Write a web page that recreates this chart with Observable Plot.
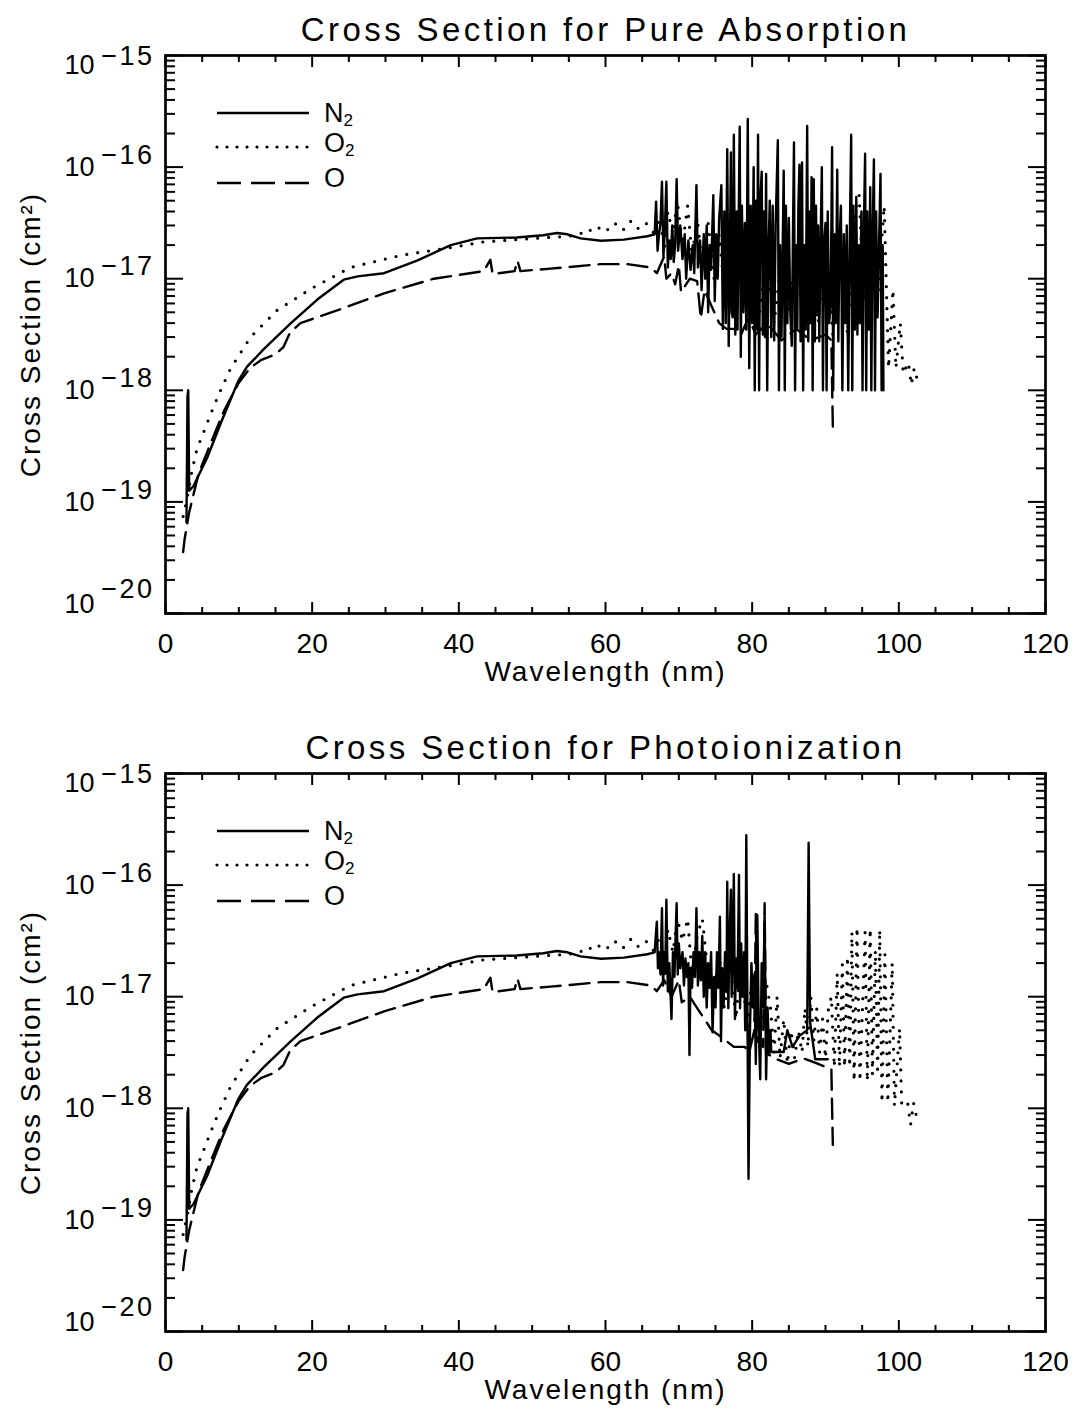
<!DOCTYPE html>
<html><head><meta charset="utf-8">
<script src="https://cdn.jsdelivr.net/npm/d3@7"></script>
<script src="https://cdn.jsdelivr.net/npm/@observablehq/plot@0.6"></script>
<style>
html,body{margin:0;padding:0;background:#fff;}
#root{width:1076px;}
#root svg{display:block;}
</style></head><body><div id="root"></div>
<script>
// ---------- text ----------
const panelTitles = ["Cross Section for Pure Absorption", "Cross Section for Photoionization"];
const xLabel = "Wavelength (nm)";
const yLabel = "Cross Section (cm\u00B2)";
const legendNames = [["N", "2"], ["O", "2"], ["O", ""]];

// ---------- ticks ----------
const xMajorTicks = [0, 20, 40, 60, 80, 100, 120];
const xMinorTicks = [5, 10, 15, 25, 30, 35, 45, 50, 55, 65, 70, 75, 85, 90, 95, 105, 110, 115];
const yDecades = [1e-15, 1e-16, 1e-17, 1e-18, 1e-19, 1e-20];
const yInnerDecades = [1e-16, 1e-17, 1e-18, 1e-19];
const yMinorTicks = [-20, -19, -18, -17, -16].flatMap(e => [2, 3, 4, 5, 6, 7, 8, 9].map(m => +(m + "e" + e)));

// ---------- data: [wavelength nm, cross section cm^2] ----------
// smooth part, shared by both panels
const n2Smooth = [
  [2.86, 6.6e-20], [3.0, 8.9e-19], [3.1, 1.0e-18], [3.23, 1.26e-19], [3.8, 1.38e-19],
  [5.7, 2.5e-19], [7.6, 5.2e-19], [9.9, 1.2e-18], [11.1, 1.62e-18], [13.4, 2.34e-18],
  [17.1, 4.0e-18], [20.7, 6.5e-18], [24.3, 9.8e-18], [26.2, 1.05e-17], [29.8, 1.12e-17],
  [34.3, 1.45e-17], [38.9, 2.0e-17], [42.5, 2.3e-17], [47.9, 2.34e-17], [51.5, 2.45e-17],
  [53.4, 2.57e-17], [54.8, 2.5e-17], [56.6, 2.3e-17], [59.4, 2.19e-17], [62.5, 2.24e-17],
  [65.7, 2.4e-17]
];
const o2Smooth = [
  [2.4, 7.4e-20], [3.0, 1.12e-19], [3.6, 1.9e-19], [4.3, 3.0e-19], [5.2, 4.2e-19],
  [6.1, 6.0e-19], [7.3, 9.3e-19], [8.9, 1.58e-18], [11.6, 3.0e-18], [15.2, 5.2e-18],
  [19.8, 8.1e-18], [25.2, 1.26e-17], [32.1, 1.62e-17], [38.9, 1.9e-17], [43.4, 2.14e-17],
  [48.0, 2.24e-17], [52.0, 2.34e-17], [55.0, 2.4e-17], [56.5, 2.5e-17], [57.5, 2.8e-17],
  [58.5, 2.6e-17], [59.5, 3.0e-17], [60.5, 2.7e-17], [61.5, 3.16e-17], [62.5, 2.75e-17],
  [63.5, 3.3e-17], [64.5, 2.8e-17], [65.5, 3.16e-17], [66.5, 2.6e-17]
];
const oSmooth = [
  [2.4, 3.55e-20], [2.6, 4.6e-20], [3.2, 7.9e-20], [4.5, 1.78e-19], [6.0, 3.16e-19],
  [8.0, 6.6e-19], [10.0, 1.17e-18], [11.5, 1.58e-18], [13.0, 1.86e-18], [15.0, 2.1e-18],
  [16.1, 2.45e-18], [17.0, 3.3e-18], [18.4, 4.0e-18], [23.4, 5.2e-18], [29.8, 7.4e-18],
  [36.6, 1.0e-17], [43.4, 1.17e-17], [44.3, 1.48e-17], [44.6, 1.1e-17], [47.6, 1.17e-17],
  [48.0, 1.45e-17], [48.4, 1.17e-17], [52.5, 1.23e-17], [59.3, 1.35e-17], [63.0, 1.35e-17],
  [66.2, 1.26e-17]
];

// band structure, pure absorption
const n2AbsBand = [
  [66.7, 2.5e-17], [66.9, 4.9e-17], [67.1, 1.78e-17], [67.3, 2.5e-17], [67.5, 3.16e-17],
  [67.7, 7.4e-17], [67.9, 1.58e-17], [68.1, 2.8e-17], [68.3, 7.4e-17], [68.5, 1.26e-17],
  [68.7, 2.2e-17], [68.9, 1.5e-17], [69.1, 3.0e-17], [69.3, 1.41e-17], [69.5, 2.0e-17],
  [69.7, 7.8e-17], [69.9, 1.78e-17], [70.2, 3.0e-17], [70.5, 1.5e-17], [70.8, 2.5e-17],
  [71.0, 1.0e-17], [71.3, 2.2e-17], [71.6, 1.2e-17], [71.9, 2.0e-17], [72.1, 1.12e-17],
  [72.4, 6.9e-17], [72.6, 1.26e-17], [72.9, 2.2e-17], [73.1, 7.9e-18], [73.4, 2.5e-17],
  [73.6, 1.0e-17], [73.8, 3.0e-17], [74.0, 5.0e-18], [74.2, 2.0e-17], [74.4, 1.2e-17],
  [74.7, 5.6e-17], [74.9, 6.3e-18], [75.1, 2.5e-17], [75.3, 1.0e-17], [75.5, 3.5e-17],
  [75.8, 6.9e-17], [76.0, 3.55e-18], [76.2, 4.0e-17], [76.4, 4.0e-18], [76.6, 1.45e-16],
  [76.8, 2.5e-18], [77.0, 3.0e-17], [77.1, 1.35e-16], [77.2, 5.0e-18], [77.35, 4.5e-18],
  [77.5, 1.95e-16], [77.7, 3.16e-18], [77.9, 4.0e-17], [78.0, 3.5e-18], [78.3, 2.3e-16],
  [78.45, 2.0e-18], [78.6, 4.5e-17], [78.8, 5.0e-18], [79.0, 3.16e-17], [79.2, 3.5e-18],
  [79.4, 2.7e-16], [79.6, 1.58e-18], [79.8, 4.5e-17], [80.0, 4.0e-18], [80.2, 1.0e-16],
  [80.35, 1.0e-18], [80.5, 5.0e-17], [80.65, 3.5e-18], [80.8, 1.95e-16], [80.95, 1.0e-18],
  [81.1, 5.0e-17], [81.3, 9.1e-17], [81.45, 3.16e-18], [81.6, 4.0e-17], [81.75, 3.0e-18],
  [81.9, 8.7e-17], [82.05, 1.0e-18], [82.2, 1.5e-17], [82.4, 5.0e-17], [82.6, 3.0e-18],
  [82.8, 4.5e-17], [83.0, 2.8e-18], [83.2, 3.0e-17], [83.5, 1.74e-16], [83.65, 1.0e-18],
  [83.8, 2.0e-17], [84.0, 3.0e-18], [84.3, 9.3e-17], [84.45, 1.0e-18], [84.6, 4.5e-17],
  [84.8, 4.0e-18], [85.0, 3.5e-17], [85.2, 5.0e-18], [85.4, 2.5e-18], [85.7, 1.66e-16],
  [85.85, 1.0e-18], [86.0, 2.0e-17], [86.15, 3.5e-18], [86.3, 4.5e-17], [86.45, 1.05e-16],
  [86.6, 2.75e-18], [86.8, 1.1e-16], [86.95, 1.0e-18], [87.1, 2.0e-17], [87.3, 3.5e-18],
  [87.5, 2.34e-16], [87.65, 2.75e-18], [87.8, 4.0e-17], [87.95, 4.0e-18], [88.1, 8.1e-17],
  [88.25, 1.0e-18], [88.4, 7.8e-17], [88.55, 2.75e-18], [88.7, 4.5e-17], [88.85, 5.0e-18],
  [89.0, 3.0e-17], [89.15, 2.75e-18], [89.3, 1.5e-17], [89.5, 1.0e-16], [89.65, 1.0e-18],
  [89.8, 2.0e-17], [90.0, 3.16e-17], [90.15, 1.0e-18], [90.3, 4.0e-17], [90.5, 4.0e-18],
  [90.7, 6.0e-18], [90.9, 1.51e-16], [91.05, 1.0e-18], [91.2, 2.5e-17], [91.4, 4.0e-18],
  [91.6, 9.5e-17], [91.75, 2.75e-18], [91.9, 2.0e-17], [92.1, 4.5e-17], [92.3, 1.0e-18],
  [92.5, 2.5e-17], [92.7, 4.0e-18], [92.9, 3.0e-17], [93.1, 1.0e-18], [93.3, 2.0e-17],
  [93.5, 1.95e-16], [93.65, 1.0e-18], [93.8, 4.5e-17], [94.0, 3.5e-18], [94.2, 5.4e-17],
  [94.35, 3.16e-18], [94.5, 2.0e-17], [94.7, 4.0e-18], [94.9, 4.0e-17], [95.05, 1.0e-18],
  [95.2, 2.0e-17], [95.4, 1.32e-16], [95.55, 1.0e-18], [95.7, 4.0e-17], [95.9, 3.5e-18],
  [96.1, 6.6e-17], [96.25, 1.0e-18], [96.4, 2.0e-17], [96.6, 1.17e-16], [96.75, 1.0e-18],
  [96.9, 4.0e-17], [97.1, 4.5e-18], [97.3, 2.0e-17], [97.5, 8.7e-17], [97.65, 1.0e-18],
  [97.8, 2.0e-17], [97.9, 1.0e-18]
];
const o2AbsBand = [
  [67.5, 3.55e-17], [68.0, 1.78e-17], [68.5, 4.0e-17], [69.2, 2.5e-17], [69.8, 5.0e-17],
  [70.5, 2.0e-17], [71.2, 4.5e-17], [71.8, 1.58e-17], [72.5, 3.55e-17], [73.2, 1.26e-17],
  [74.0, 3.16e-17], [74.8, 1.0e-17], [75.5, 2.5e-17], [76.2, 7.9e-18], [77.0, 2.0e-17],
  [77.8, 6.3e-18], [78.5, 2.5e-17], [79.3, 5.0e-18], [80.0, 2.0e-17], [81.0, 5.0e-18],
  [82.0, 1.58e-17], [83.0, 4.0e-18], [84.0, 1.58e-17], [85.0, 5.0e-18], [86.0, 2.0e-17],
  [87.0, 4.0e-18], [88.0, 1.58e-17], [89.0, 4.0e-18], [90.0, 2.0e-17], [91.0, 3.16e-18],
  [92.0, 1.58e-17], [93.0, 3.16e-18], [94.0, 4.0e-17], [94.6, 5.6e-17], [95.2, 6.3e-18],
  [96.0, 3.16e-17], [97.0, 5.0e-18], [98.0, 4.5e-17], [98.6, 1.58e-18], [99.2, 8.0e-18],
  [99.6, 1.58e-18], [100.2, 4.0e-18], [100.6, 1.41e-18], [101.3, 1.78e-18], [101.7, 1.12e-18],
  [102.1, 1.58e-18], [102.5, 1.26e-18]
];
const oAbsBand = [
  [67.0, 1.12e-17], [68.0, 1.58e-17], [68.3, 1.0e-17], [69.0, 1.12e-17], [69.5, 8.9e-18],
  [70.0, 1.32e-17], [70.3, 7.6e-18], [71.5, 1.0e-17], [72.5, 9.5e-18], [73.0, 4.4e-18],
  [73.5, 7.9e-18], [74.5, 5.6e-18], [75.5, 4.0e-18], [76.5, 3.55e-18], [77.5, 3.55e-18],
  [78.5, 3.16e-18], [79.5, 4.5e-18], [80.5, 3.16e-18], [82.0, 4.0e-18], [84.0, 2.8e-18],
  [86.0, 3.55e-18], [88.0, 2.8e-18], [90.0, 3.16e-18], [90.8, 2.8e-18], [91.0, 4.7e-19]
];

// band structure, photoionization
const n2IonBand = [
  [66.7, 2.5e-17], [67.0, 4.7e-17], [67.15, 1.8e-17], [67.3, 2.5e-17], [67.5, 1.58e-17],
  [67.7, 6.2e-17], [67.85, 1.26e-17], [68.0, 2.5e-17], [68.15, 1.6e-17], [68.3, 7.4e-17],
  [68.5, 1.12e-17], [68.7, 2.0e-17], [69.0, 6.3e-18], [69.2, 2.5e-17], [69.4, 1.5e-17],
  [69.7, 6.9e-17], [69.85, 1.58e-17], [70.0, 3.0e-17], [70.2, 1.8e-17], [70.5, 2.5e-17],
  [70.7, 1.26e-17], [70.9, 2.2e-17], [71.1, 1.5e-17], [71.3, 2.0e-17], [71.45, 3.0e-18],
  [71.6, 1.8e-17], [71.8, 1.2e-17], [72.0, 2.5e-17], [72.2, 1.5e-17], [72.4, 6.2e-17],
  [72.6, 1.26e-17], [72.8, 2.5e-17], [73.0, 1.4e-17], [73.2, 3.5e-17], [73.4, 1.0e-17],
  [73.6, 2.5e-17], [73.8, 8.0e-18], [74.0, 2.0e-17], [74.2, 1.2e-17], [74.4, 2.5e-17],
  [74.6, 4.8e-18], [74.8, 1.5e-17], [75.0, 8.0e-18], [75.2, 2.5e-17], [75.4, 1.2e-17],
  [75.6, 5.2e-17], [75.75, 4.0e-18], [75.9, 1.8e-17], [76.1, 8.0e-18], [76.3, 2.5e-17],
  [76.5, 1.1e-17], [76.6, 1.07e-16], [76.75, 7.9e-18], [76.9, 3.0e-17], [77.1, 9.1e-17],
  [77.2, 1.0e-17], [77.35, 2.5e-17], [77.5, 1.26e-16], [77.65, 6.3e-18], [77.8, 2.2e-17],
  [78.0, 1.2e-17], [78.2, 1.23e-16], [78.35, 7.9e-18], [78.5, 3.0e-17], [78.7, 1.0e-17],
  [78.9, 2.5e-17], [79.05, 5.0e-18], [79.2, 2.8e-16], [79.5, 2.34e-19], [79.7, 5.0e-18],
  [79.9, 2.0e-17], [80.1, 8.0e-18], [80.3, 1.58e-17], [80.5, 2.5e-18], [80.7, 5.4e-17],
  [80.9, 5.0e-18], [81.1, 1.82e-18], [81.3, 2.0e-17], [81.5, 8.0e-18], [81.7, 5.6e-17],
  [81.9, 1.82e-18], [82.1, 8.0e-18], [82.3, 3.0e-18], [82.5, 5.0e-18], [82.6, 3.2e-18],
  [84.3, 3.2e-18], [84.8, 5.0e-18], [85.5, 3.55e-18], [86.5, 4.5e-18], [87.5, 5.0e-18],
  [87.7, 2.4e-16], [87.9, 5.9e-18], [88.6, 2.75e-18], [90.3, 2.75e-18]
];
const o2IonBand = [
  [67.5, 3.55e-17], [68.0, 1.78e-17], [68.5, 4.0e-17], [69.2, 2.5e-17], [69.8, 5.0e-17],
  [70.5, 3.16e-17], [71.2, 5.0e-17], [71.8, 1.58e-17], [72.5, 3.55e-17], [73.2, 5.0e-17],
  [74.0, 1.58e-17], [74.8, 1.0e-17], [75.5, 2.5e-17], [76.2, 7.9e-18], [77.0, 2.0e-17],
  [77.8, 6.3e-18], [78.5, 2.5e-17], [79.3, 5.0e-18], [80.0, 1.58e-17], [81.0, 5.0e-18],
  [82.0, 1.26e-17], [82.5, 7.9e-18], [83.0, 3.16e-18], [83.4, 1.0e-17], [83.8, 2.8e-18],
  [84.3, 6.3e-18], [84.8, 2.5e-18], [85.3, 5.0e-18], [85.8, 2.8e-18], [86.3, 5.0e-18],
  [86.8, 3.16e-18], [87.2, 7.9e-18], [87.6, 3.55e-18], [88.0, 1.0e-17], [88.4, 4.0e-18],
  [88.8, 7.9e-18], [89.2, 3.16e-18], [89.6, 6.3e-18], [90.0, 2.8e-18], [90.4, 7.9e-18],
  [90.8, 1.0e-17], [91.2, 2.34e-18], [91.6, 1.62e-17], [91.9, 2.34e-18], [92.3, 1.95e-17],
  [92.6, 2.34e-18], [93.0, 2.3e-17], [93.3, 2.34e-18], [93.6, 3.8e-17], [93.9, 1.74e-18],
  [94.3, 4.2e-17], [94.7, 1.74e-18], [95.4, 3.8e-17], [95.7, 1.74e-18], [96.1, 4.1e-17],
  [96.4, 2.0e-18], [96.8, 2.6e-17], [97.1, 2.0e-18], [97.4, 4.0e-17], [97.7, 1.12e-18],
  [98.1, 2.4e-17], [98.5, 1.12e-18], [99.1, 2.0e-17], [99.4, 1.05e-18], [100.1, 5.2e-18],
  [100.4, 1.05e-18], [101.2, 1.12e-18], [101.6, 7.1e-19], [102.0, 1.12e-18], [102.5, 7.9e-19]
];
const oIonBand = [
  [67.0, 1.12e-17], [68.0, 1.41e-17], [69.0, 1.0e-17], [70.0, 1.41e-17], [70.4, 8.9e-18],
  [71.5, 1.0e-17], [72.5, 7.9e-18], [73.5, 6.3e-18], [74.5, 5.0e-18], [75.5, 4.5e-18],
  [76.5, 4.0e-18], [77.5, 3.55e-18], [79.0, 3.55e-18], [79.6, 3.16e-18], [80.3, 5.0e-18],
  [80.5, 5.6e-17], [80.7, 4.0e-18], [81.5, 3.55e-18], [81.7, 6.9e-17], [81.9, 3.16e-18],
  [83.0, 2.8e-18], [85.0, 2.5e-18], [87.0, 2.8e-18], [89.0, 2.5e-18], [90.8, 2.24e-18],
  [91.0, 4.7e-19]
];

// ---------- drawing ----------
const FONT = "'Liberation Sans', Arial, sans-serif";
const expLabel = d => "\u2212" + Math.round(-Math.log10(d));

function yLabelMarks(values, baseShift, expShift) {
  return [
    Plot.axisY(values, {anchor: "left", tickSize: 0, tickPadding: 71, tickFormat: () => "10", dy: baseShift, fontSize: 27, label: null}),
    Plot.axisY(values, {anchor: "left", tickSize: 0, tickPadding: 11, tickFormat: expLabel, dy: expShift, fontSize: 27, label: null})
  ];
}

function panel(title, n2, o2, o, height, marginBottom) {
  const xy = {x: d => d[0], y: d => d[1]};
  const tk = {fill: "none", strokeWidth: 2, label: null};
  const svg = Plot.plot({
    width: 1076, height,
    marginTop: 55, marginBottom, marginLeft: 165, marginRight: 31,
    x: {domain: [0, 120]},
    y: {type: "log", domain: [1e-20, 1e-15]},
    style: {fontFamily: FONT, color: "black", background: "white", overflow: "visible"},
    marks: [
      Plot.line(o, {...xy, stroke: "black", strokeWidth: 2.4, strokeDasharray: "20,9"}),
      Plot.line(o2, {...xy, stroke: "black", strokeWidth: 3.2, strokeDasharray: "0,11", strokeLinecap: "round"}),
      Plot.line(n2, {...xy, stroke: "black", strokeWidth: 2.4, strokeLinejoin: "round"}),
      Plot.frame({stroke: "black", strokeWidth: 2.7}),
      Plot.axisX(xMajorTicks, {anchor: "bottom", tickSize: 11, insetBottom: 11, ...tk}),
      Plot.axisX(xMinorTicks, {anchor: "bottom", tickSize: 6, insetBottom: 6, ...tk}),
      Plot.axisX(xMajorTicks, {anchor: "top", tickSize: 11, insetTop: 11, ...tk}),
      Plot.axisX(xMinorTicks, {anchor: "top", tickSize: 6, insetTop: 6, ...tk}),
      Plot.axisY(yDecades, {anchor: "left", tickSize: 18, insetLeft: 18, ...tk}),
      Plot.axisY(yMinorTicks, {anchor: "left", tickSize: 10, insetLeft: 10, ...tk}),
      Plot.axisY(yDecades, {anchor: "right", tickSize: 18, insetRight: 18, ...tk}),
      Plot.axisY(yMinorTicks, {anchor: "right", tickSize: 10, insetRight: 10, ...tk}),
      Plot.axisX(xMajorTicks, {anchor: "bottom", tickSize: 0, tickPadding: 20, fontSize: 28, label: null, tickFormat: d => String(d)}),
      ...yLabelMarks(yInnerDecades, 0, -12),
      ...yLabelMarks([1e-15], 10, 1),
      ...yLabelMarks([1e-20], -9, -24),
      Plot.text([title], {frameAnchor: "top", lineAnchor: "middle", dy: -25, fontSize: 33, fill: "black"}),
      Plot.text([xLabel], {frameAnchor: "bottom", lineAnchor: "middle", dy: 59, fontSize: 28, fill: "black"}),
      Plot.text([yLabel], {frameAnchor: "left", textAnchor: "middle", lineAnchor: "middle", dx: -134, rotate: -90, fontSize: 28, fill: "black"})
    ]
  });
  const s = d3.select(svg);
  s.selectAll("text").filter(function() { return this.textContent === title; }).attr("letter-spacing", 3.4);
  s.selectAll("text").filter(function() { return this.textContent === xLabel || this.textContent === yLabel; }).attr("letter-spacing", 2);
  s.selectAll("text").filter(function() { return this.textContent.startsWith("\u2212"); }).attr("letter-spacing", 2.5);

  // legend (placed inside the plot frame, upper left)
  const rowsLine = [113, 147, 183];
  const rowsText = [122, 152, 187];
  const styles = [
    {w: 2.4, dash: null, cap: "butt"},
    {w: 3.2, dash: "0,10", cap: "round"},
    {w: 2.4, dash: "24,10", cap: "butt"}
  ];
  const g = s.append("g").attr("font-family", FONT).attr("text-anchor", "start");
  legendNames.forEach(([base, sub], i) => {
    g.append("line").attr("x1", 217).attr("x2", 309).attr("y1", rowsLine[i]).attr("y2", rowsLine[i])
      .attr("stroke", "black").attr("stroke-width", styles[i].w)
      .attr("stroke-dasharray", styles[i].dash).attr("stroke-linecap", styles[i].cap);
    const t = g.append("text").attr("x", 324).attr("y", rowsText[i]).attr("font-size", 27).attr("fill", "black").text(base);
    if (sub) t.append("tspan").attr("font-size", 17).attr("dy", 4).text(sub);
  });
  return svg;
}

const root = document.getElementById("root");
root.appendChild(panel(panelTitles[0], n2Smooth.concat(n2AbsBand), o2Smooth.concat(o2AbsBand), oSmooth.concat(oAbsBand), 718, 105));
root.appendChild(panel(panelTitles[1], n2Smooth.concat(n2IonBand), o2Smooth.concat(o2IonBand), oSmooth.concat(oIonBand), 699, 86));
</script></body></html>
